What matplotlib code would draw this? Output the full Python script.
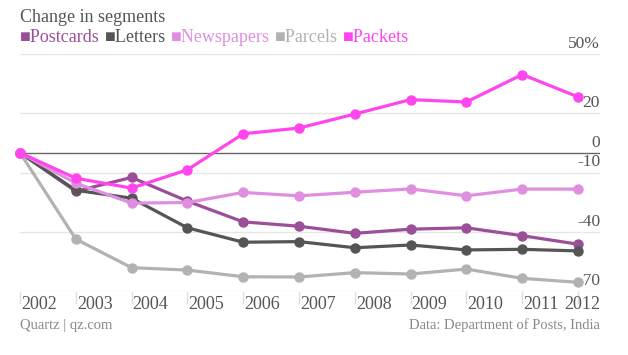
import matplotlib
matplotlib.use("Agg")
import matplotlib.pyplot as plt
import matplotlib.transforms as mtransforms

years = [2002, 2003, 2004, 2005, 2006, 2007, 2008, 2009, 2010, 2011, 2012]
series_names = ["Postcards", "Letters", "Newspapers", "Parcels", "Packets"]
postcards = [0, -19.5, -12.5, -24.5, -35, -37.2, -40.8, -38.7, -38, -42, -46.3]
letters = [0, -19, -23, -38, -45.3, -45, -48.1, -46.7, -49.2, -48.9, -49.7]
newspapers = [0, -15.4, -25.5, -25.2, -20.1, -21.8, -20, -18.3, -21.8, -18.4, -18.4]
parcels = [0, -43.7, -58.2, -59.4, -62.8, -62.9, -60.7, -61.4, -58.9, -63.6, -65.6]
packets = [0, -12.9, -17.9, -8.6, 9.6, 12.5, 19.6, 26.9, 25.7, 39.6, 28.3]
y_ticks = [50, 20, 0, -10, -40, -70]
y_labels = ["50%", "20", "0", "-10", "-40", "-70"]
year_labels = [str(y) for y in years]

colors = ["#9a4f98", "#555555", "#e08ee0", "#b2b2b2", "#ff45ee"]
values = [postcards, letters, newspapers, parcels, packets]

FONT = ["Liberation Serif", "DejaVu Sans"]
W, H = 628, 355
fig = plt.figure(figsize=(W / 100, H / 100), dpi=100)
ax_left, ax_right = 20, 600
ax_bottom, ax_top = 291, 54
ax = fig.add_axes([ax_left / W, 1 - ax_bottom / H, (ax_right - ax_left) / W, (ax_bottom - ax_top) / H])
step = 55.8
ax.set_xlim(years[0], years[0] + (ax_right - ax_left) / step)
ax.set_ylim(-70, 50)
for s in ax.spines.values():
    s.set_visible(False)
ax.set_xticks([])
ax.set_yticks([])

# gridlines
for v in y_ticks:
    if v == 0:
        ax.axhline(v, color="#666666", lw=1.0, zorder=1)
    else:
        ax.axhline(v, color="#e6e6e6", lw=1.0, zorder=0)

# y labels above gridlines
offset = mtransforms.ScaledTranslation(0, 2 / 100, fig.dpi_scale_trans)
for v, lab in zip(y_ticks, y_labels):
    ax.text(1.0, v, lab, transform=ax.get_yaxis_transform() + offset, ha="right", va="bottom",
            fontsize=12.5, color="#555555", family=FONT, zorder=1)

# series
for name, vals, c in zip(series_names, values, colors):
    ax.plot(years, vals, color=c, lw=2.3, marker="o", markersize=6.5, zorder=3, clip_on=False,
            solid_joinstyle="round")

# x tick marks and labels
tick_tr = ax.get_xaxis_transform()
for yr in years:
    ax.plot([yr, yr], [-70 - 0.5, -70 - 6.0], color="#dddddd", lw=1.0, clip_on=False, zorder=0)
lab_off = mtransforms.ScaledTranslation(1 / 100, -5 / 100, fig.dpi_scale_trans)
for i, (yr, lab) in enumerate(zip(years, year_labels)):
    if i == len(years) - 1:
        ax.text(1.0, 0, lab, transform=ax.transAxes + mtransforms.ScaledTranslation(0, -5 / 100, fig.dpi_scale_trans),
                ha="right", va="top", fontsize=13, color="#555555", family=FONT)
    else:
        ax.text(yr, 0, lab, transform=tick_tr + lab_off,
                ha="left", va="top", fontsize=13, color="#555555", family=FONT)

# title
fig.text(20 / W, 1 - 17 / H, "Change in segments", ha="left", va="center", fontsize=13,
         color="#555555", family=FONT)

# legend as coloured text
fig.canvas.draw()
renderer = fig.canvas.get_renderer()
x = 20
for name, c in zip(series_names, colors):
    t = fig.text(x / W, 1 - 38 / H, "\u25a0" + name, ha="left", va="center", fontsize=13,
                 color=c, family=FONT)
    bb = t.get_window_extent(renderer)
    x += bb.width + 5

# footer
fig.text(20 / W, 1 - 325 / H, "Quartz | qz.com", ha="left", va="center", fontsize=10.5,
         color="#888888", family=FONT)
fig.text(600 / W, 1 - 325 / H, "Data: Department of Posts, India", ha="right", va="center",
         fontsize=10.5, color="#888888", family=FONT)

fig.savefig("out.png", dpi=100)
